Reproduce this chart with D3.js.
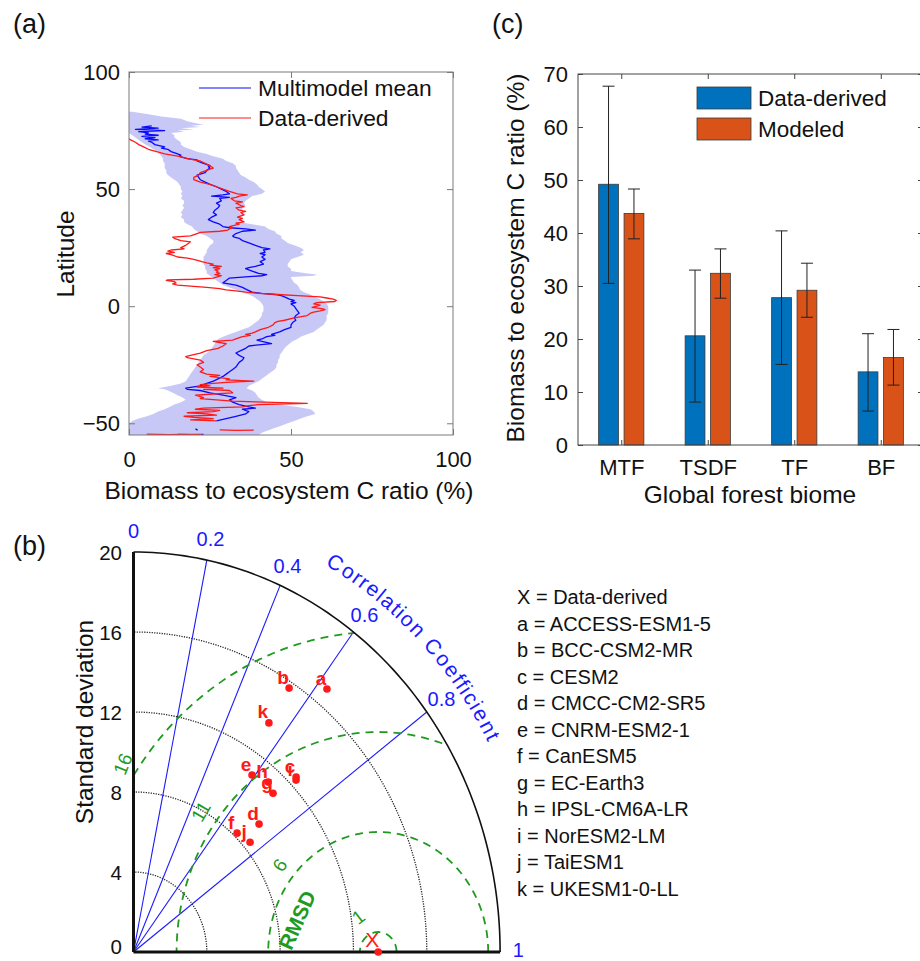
<!DOCTYPE html>
<html><head><meta charset="utf-8">
<script src="https://cdn.jsdelivr.net/npm/d3@7/dist/d3.min.js"></script>
<style>
body{margin:0;background:#fff}
text{font-family:"Liberation Sans",Arial,Helvetica,sans-serif;fill:#111}
</style>
</head><body>
<svg id="fig" width="920" height="961"></svg>
<script>
// ---------------- DATA ----------------
// Panel (a): latitudinal profiles
const meanLat = [77,76.5,76,75.5,75,74.5,74,73.5,73,72.5,72,71.5,71,70.5,70,69,68,67.5,67,66,65,64.5,64,63,62.5,62,61,60,59.5,59,58,57,56,55,54,53,52,51,50,49,48,47.5,47,46.5,46,45,44,43,42,41,40,39,38,37,36,35,34,33.5,33,32.5,32,31,30,29.5,29,28,27,26,25,24.5,24,23,22.5,22,21,20,19,18,17,16.5,16,15,14,13.5,13,12.5,12,11,10,9,8,7,6,5.5,5,4.5,4,3,2.5,2,1.5,1,0,-1,-2,-3,-4,-5,-6,-7,-8,-9,-10,-11,-12,-12.5,-13,-14,-14.5,-15,-16,-16.5,-17,-18,-19,-20,-21,-22,-23,-24,-25,-26,-27,-28,-29,-30,-31,-32,-33,-34,-35,-35.5,-36,-37,-38,-39,-40,-41,-42,-43,-43.5,-44,-45,-46,-47,-48,-49];
const meanVal = [7,4,9,2,11,3,6,5,9,4,8,5,9,6,7,8,11,10,12,13,15,16,15.5,18,21,21,23,25,24.5,25,24,23.5,21,21.5,22,23.5,25,27,28.5,30,31,29,25.5,31,28,28.5,27,28,27.5,26.5,26,27,25.5,24.5,26,28,29,31,36,39,35,33,32,32.5,34,35,37,39,41,43.5,41.5,42,40.5,42,41,42,40.5,41.5,39,37,36,38,40,42.5,41,36,31,30,29,33,35,36.5,38,41,45,47,48,49.5,51,50,51.5,50,51,51.5,52,52.5,51.5,51,51.5,50.5,50,50,48,46.5,44,45,42.5,41,39.5,41,44,40,37,36,34.5,33,34,35.5,35,34,33.5,33,32,31,30,29,27.5,26,24,22,17.5,18,22,25,29,33,31,32,34,37,39,35,37,36,33,30,27];
const meanTailLat = [-52.4,-52.9];
const meanTailVal = [20.5,21.2];
const meanBottomLat = [-54.7,-54.8,-54.7];
const meanBottomVal = [15,19,23];

const obsLat = [71.5,71,70,69,68,67,66,65,64,63,62.5,62,61,60,59,58.5,58,57,56,55,54,53,52,51,50,49,48,47.5,47,46.5,46,45,44.5,44,43,42.5,42,41,40.5,40,39,38,37.5,37,36,35.5,35,34,33.5,33,32.5,32,31.5,31,30,29.5,29,28,27.5,27,26,25,24.5,24,23.5,23,22.5,22,21,20.5,20,19,18.5,18,17.5,17,16.5,16,15.5,15,14.5,14,13.5,13,12,11.5,11.2,11,10.5,10,9.5,9,8.5,8,7.5,7,6.5,6,5.5,5,4.5,4,3.5,3,2.5,2,1.5,1,0.5,0,-0.5,-1,-1.5,-2,-2.5,-3,-4,-5,-6,-6.5,-7,-8,-9,-10,-11,-11.5,-12,-12.5,-13,-14,-14.5,-15,-15.5,-16,-17,-18,-19,-20,-21,-21.5,-22,-23,-24,-25,-26,-27,-28,-29,-29.5,-30,-31,-31.5,-32,-32.5,-33,-33.5,-34,-34.5,-35,-35.5,-36,-37,-37.5,-38,-39,-39.5,-40,-40.5,-41,-41.5,-42,-42.5,-43,-43.5,-44,-44.5,-45,-45.5,-46,-46.5,-47,-47.5,-48,-48.5,-49];
const obsVal = [0,0.5,2,3,4.5,6,8.5,11,15.5,18,20,22,23.5,25,26,25,24,22,21.5,20,20,22,25,27,29,31,33.5,36.5,34,33,31.5,32.5,35,33,34.5,35.5,33,34,36,34.5,35.5,33.5,35,34,35.5,33,34,31,32,31,30.5,28,22,21,19,13.5,14,16,19,18.5,17.5,16,17,13,12,14,11.5,13,15,18,20,22.5,24,26,25,28.5,26,28,26.5,27.5,27,28,26.5,28.5,26,20,12,11.5,14,14.5,13.5,15,20,24,28,30,33,36,40,46,52,59,61,63,64,63.5,58,57,59,58,56.5,59.5,60.5,59,57,56,55,51,48,46,45,44.5,43,40.5,39,38,36,37.5,35,33,32,26,28,30,29,27.5,24,22,19,17.5,18,22,23,21,22,23,22,24,28,25,31,30,38.5,30,26,22,25,21,29,23,31,32,26,20.5,23,22,27,32,42,55,40,37,35,23,20.5,28,26,18,24,27,17,20,26,19,27];
const obsTailLat = [-52.8,-53.0,-52.9];
const obsTailVal = [28,33,38.5];
const obsBottomLat = [-54.6,-54.8,-54.7,-54.8];
const obsBottomVal = [5.5,12,18,22.5];

const bandLat = [83,82,81,80,79,78,77.5,77,76.5,76,75.5,75,74.5,74,73,72,71,70,69,68,67,66,65,64,63,62,61,60,59,58,57,56,55,54,53,52,51,50,49,48,47,46,45,44,43,42,41,40,39,38,37,36,35,34,33,32,31,30,29,28,27,26,25,24,23,22,21,20,19,18,17,16,15,14,13.5,13,12.5,12,11,10,9,8,7,6,5,4,3,2,1,0,-1,-2,-3,-4,-5,-6,-7,-8,-9,-10,-11,-12,-13,-14,-15,-16,-17,-18,-19,-20,-21,-22,-23,-24,-25,-26,-27,-28,-29,-30,-31,-32,-33,-34,-35,-35.5,-36,-37,-38,-39,-40,-41,-42,-43,-44,-45,-46,-47,-48,-49,-50,-51,-52,-53,-54,-55];
const bandLo = [0,0,0,0,0,0,0,0,0,0,0,0,0,0,1,2,3,4,5,6.5,7.5,9,9.5,10,10.5,10.5,11,11,11,11.5,11.5,12,13,14,15,15.5,16,16,16.5,16,16.5,16,17,17,16.5,17,16.5,16,16.5,16,17,17,18,19.5,20,21,22,24,25,26,26,25,24.5,24,24,23.5,23,23,23,23,23.5,23.5,24,24,24.5,25,25.5,26,27,28,29,31,33,35,37,38.5,39.5,40.5,41,41.5,41.5,41.5,41,41,40.5,40,39,38,37,35,33,31,29,27.5,27,26.5,26,25.5,25,24,23,22.5,22,21.5,21,20.5,20,19.5,19,18.5,18,17.5,16,13,9,11,12,13.5,15,16.5,17.5,16,14,12.5,11,9,7.5,5.5,3,1,0,0,0,0,0,0];
const bandHi = [1,6,10,16,18,21,23,19,22,16,20,15,17,13,14,14,15,16,16,17,19,21,24,26,29,30,32,33,33,33.5,34,34.5,36,37,38.5,39.5,40,41,42,41,38,37,36,35.5,36,35,35,34,35,34,34.5,34,38,42,43,45,45.5,47,47,48,49,51,53,54,53,54,52,50,49.5,49,49,50,50,55,58,57,50,50,50.5,51,52,52.5,52.8,54,56,57,59,60,61,61.5,61.5,61.5,61.5,61,61,61,60.5,60,59,58,57,55,53,52,50.5,49.5,48.7,48,47.5,47,46.5,46.5,46,46,45.5,45.5,45,44,43,42,41,40,38.5,37,36.3,37,38,39,39.5,40,41,42.5,46,52,56,57,57.5,55,53,51,49,47,45,43,41,40];
const xTicksA = [0,50,100];
const yTicksA = [-50,0,50,100];
const legendA = ["Multimodel mean","Data-derived"];

// Panel (b): Taylor diagram
const modelLabels = ["a","b","c","d","e","f","g","h","i","j","k"];
const modelStd  = [16.86,15.69,12.46,9.37,10.96,8.20,11.00,11.23,12.35,8.40,13.63];
const modelCorr = [0.626,0.541,0.712,0.731,0.590,0.689,0.692,0.654,0.718,0.757,0.542];
const refStd = 13.35;
const stdTicks = [0,4,8,12,16,20];
const stdArcs = [4,8,12,16];
const corrTicks = [0,0.2,0.4,0.6,0.8,1];
const corrLines = [0.2,0.4,0.6,0.8];
const rmsdLevels = [1,6,11,16];
const modelNames = ["X = Data-derived","a = ACCESS-ESM1-5","b = BCC-CSM2-MR","c = CESM2","d = CMCC-CM2-SR5","e = CNRM-ESM2-1","f = CanESM5","g = EC-Earth3","h = IPSL-CM6A-LR","i = NorESM2-LM","j = TaiESM1","k = UKESM1-0-LL"];

// Panel (c): bars
const biomes = ["MTF","TSDF","TF","BF"];
const derivedVal = [49.2,20.6,27.8,13.8];
const derivedLo  = [30.5,8.1,15.2,6.4];
const derivedHi  = [67.7,33.0,40.4,21.0];
const modeledVal = [43.7,32.4,29.2,16.5];
const modeledLo  = [38.9,27.7,24.1,11.3];
const modeledHi  = [48.3,37.0,34.3,21.8];
const yTicksC = [0,10,20,30,40,50,60,70];
const legendC = ["Data-derived","Modeled"];

// ---------------- DRAW ----------------
const svg = d3.select("#fig");
svg.append("rect").attr("width",920).attr("height",961).attr("fill","#fff");

const TICK = 22, LAB = 24.5;

// panel letters
[["(a)",13,24],["(c)",492,24],["(b)",13,546]].forEach(p=>{
  svg.append("text").text(p[0]).attr("x",p[1]).attr("y",p[2]).attr("dominant-baseline","central").style("font-size","27px");
});

const styleAxis = (sel,axis,col)=>{ sel.call(axis); sel.select(".domain").remove();
  sel.selectAll(".tick line").attr("stroke",col);
  sel.selectAll("text").style("font-size",TICK+"px").attr("fill","#111").style("font-family",'"Liberation Sans",Arial,sans-serif'); };

// ======== Panel (a) ========
{
  const x = d3.scaleLinear().domain([0,100]).range([129,453]);
  const y = d3.scaleLinear().domain([-55,100]).range([435,72]);
  const g = svg.append("g");
  g.append("clipPath").attr("id","clipA").append("rect")
    .attr("x",129).attr("y",72).attr("width",324).attr("height",363);
  const pc = g.append("g").attr("clip-path","url(#clipA)");
  const band = bandLat.map((l,i)=>({lat:l,lo:bandLo[i],hi:bandHi[i]}));
  pc.append("path").datum(band)
    .attr("d",d3.area().y(d=>y(d.lat)).x0(d=>x(d.lo)).x1(d=>x(d.hi)))
    .attr("fill","#c8c8f6").attr("stroke","none");
  const line = d3.line().x(d=>x(d[1])).y(d=>y(d[0]));
  const zipper = (a,b)=>a.map((v,i)=>[v,b[i]]);
  [[meanLat,meanVal],[meanTailLat,meanTailVal],[meanBottomLat,meanBottomVal]].forEach(s=>{
    pc.append("path").datum(zipper(s[0],s[1])).attr("d",line)
      .attr("fill","none").attr("stroke","#0a0aff").attr("stroke-width",1.3).attr("stroke-linejoin","round");
  });
  [[obsLat,obsVal],[obsTailLat,obsTailVal],[obsBottomLat,obsBottomVal]].forEach(s=>{
    pc.append("path").datum(zipper(s[0],s[1])).attr("d",line)
      .attr("fill","none").attr("stroke","#ff1a1a").attr("stroke-width",1.3).attr("stroke-linejoin","round");
  });
  const col = "#7a7a7a";
  styleAxis(g.append("g").attr("transform","translate(0,435)"), d3.axisBottom(x).tickValues(xTicksA).tickSize(-6).tickPadding(16), col);
  styleAxis(g.append("g").attr("transform","translate(0,72)"), d3.axisTop(x).tickValues(xTicksA).tickSize(-6).tickFormat(""), col);
  styleAxis(g.append("g").attr("transform","translate(129,0)"), d3.axisLeft(y).tickValues(yTicksA).tickSize(-6).tickPadding(9), col);
  styleAxis(g.append("g").attr("transform","translate(453,0)"), d3.axisRight(y).tickValues(yTicksA).tickSize(-6).tickFormat(""), col);
  g.append("rect").attr("x",129).attr("y",72).attr("width",324).attr("height",363)
    .attr("fill","none").attr("stroke",col).attr("stroke-width",1);
  g.append("text").text("Biomass to ecosystem C ratio (%)").attr("x",289).attr("y",490)
    .attr("text-anchor","middle").attr("dominant-baseline","central").style("font-size",LAB+"px");
  g.append("text").text("Latitude").attr("transform","translate(65,254) rotate(-90)")
    .attr("text-anchor","middle").attr("dominant-baseline","central").style("font-size",LAB+"px");
  const lc = ["#0a0aff","#ff1a1a"];
  legendA.forEach((t,i)=>{
    const yy = 88 + i*30;
    g.append("line").attr("x1",199).attr("x2",251).attr("y1",yy).attr("y2",yy).attr("stroke",lc[i]).attr("stroke-width",1.2);
    g.append("text").text(t).attr("x",258).attr("y",yy).attr("dominant-baseline","central").style("font-size","22.8px");
  });
}

// ======== Panel (c) ========
{
  const x = d3.scaleLinear().domain([0.5,4.5]).range([578,924]);
  const y = d3.scaleLinear().domain([0,70]).range([445,74]);
  const g = svg.append("g");
  const off = 0.147, bw = 0.229;
  const series = [
    {v:derivedVal,lo:derivedLo,hi:derivedHi,c:"#0072BD",o:-off},
    {v:modeledVal,lo:modeledLo,hi:modeledHi,c:"#D95319",o:off}];
  series.forEach(s=>{
    biomes.forEach((b,i)=>{
      const cx = i+1+s.o;
      g.append("rect").attr("x",x(cx-bw/2)).attr("width",x(cx+bw/2)-x(cx-bw/2))
        .attr("y",y(s.v[i])).attr("height",y(0)-y(s.v[i]))
        .attr("fill",s.c).attr("stroke","#3a3a3a").attr("stroke-width",0.8);
    });
  });
  series.forEach(s=>{
    biomes.forEach((b,i)=>{
      const cx = x(i+1+s.o);
      g.append("line").attr("x1",cx).attr("x2",cx).attr("y1",y(s.lo[i])).attr("y2",y(s.hi[i])).attr("stroke","#222").attr("stroke-width",1);
      [s.lo[i],s.hi[i]].forEach(v=>g.append("line").attr("x1",cx-6).attr("x2",cx+6).attr("y1",y(v)).attr("y2",y(v)).attr("stroke","#222").attr("stroke-width",1));
    });
  });
  const col = "#444";
  styleAxis(g.append("g").attr("transform","translate(0,445)"), d3.axisBottom(x).tickValues([1,2,3,4]).tickFormat((d,i)=>biomes[i]).tickSize(-5).tickPadding(14), col);
  styleAxis(g.append("g").attr("transform","translate(0,74)"), d3.axisTop(x).tickValues([1,2,3,4]).tickSize(-5).tickFormat(""), col);
  styleAxis(g.append("g").attr("transform","translate(578,0)"), d3.axisLeft(y).tickValues(yTicksC).tickSize(-5).tickPadding(10), col);
  styleAxis(g.append("g").attr("transform","translate(923,0)"), d3.axisRight(y).tickValues(yTicksC).tickSize(-5).tickFormat(""), col);
  g.append("rect").attr("x",578).attr("y",74).attr("width",345).attr("height",371)
    .attr("fill","none").attr("stroke",col).attr("stroke-width",1);
  g.append("text").text("Global forest biome").attr("x",750).attr("y",494)
    .attr("text-anchor","middle").attr("dominant-baseline","central").style("font-size",LAB+"px");
  g.append("text").text("Biomass to ecosystem C ratio (%)").attr("transform","translate(515,258) rotate(-90)")
    .attr("text-anchor","middle").attr("dominant-baseline","central").style("font-size",LAB+"px");
  const cols = ["#0072BD","#D95319"];
  legendC.forEach((t,i)=>{
    const yy = 87 + i*31;
    g.append("rect").attr("x",697).attr("y",yy).attr("width",54).attr("height",22).attr("fill",cols[i]).attr("stroke","#3a3a3a").attr("stroke-width",0.8);
    g.append("text").text(t).attr("x",758).attr("y",yy+11).attr("dominant-baseline","central").style("font-size","22.5px");
  });
}

// ======== Panel (b) Taylor ========
{
  const ox = 133.5, oy = 952;
  const sx = d3.scaleLinear().domain([0,20]).range([0,366.6]);
  const sy = d3.scaleLinear().domain([0,20]).range([0,400]);
  const P = (s,a)=>[ox + sx(s*Math.cos(a)), oy - sy(s*Math.sin(a))];
  const g = svg.append("g");
  const arcPath = (r)=>{ const pts = d3.range(0,91,1).map(d=>P(r,d*Math.PI/180)); return d3.line()(pts); };
  const clipPts = [[ox,oy]].concat(d3.range(0,91,1).map(d=>P(20,d*Math.PI/180)));
  g.append("clipPath").attr("id","clipT").append("path").attr("d",d3.line()(clipPts)+"Z");
  stdArcs.forEach(r=>g.append("path").attr("d",arcPath(r)).attr("fill","none").attr("stroke","#222").attr("stroke-width",1.3).attr("stroke-dasharray","1.2,1.3"));
  corrLines.forEach(c=>{ const a = Math.acos(c); const p = P(20,a);
    g.append("line").attr("x1",ox).attr("y1",oy).attr("x2",p[0]).attr("y2",p[1]).attr("stroke","#1a1aff").attr("stroke-width",1.1); });
  const cg = g.append("g").attr("clip-path","url(#clipT)");
  rmsdLevels.forEach(r=>{
    const pts = d3.range(0,181,1).map(d=>{ const a=d*Math.PI/180; return [ox+sx(refStd+r*Math.cos(a)), oy - sy(r*Math.sin(a))]; });
    cg.append("path").attr("d",d3.line()(pts)).attr("fill","none").attr("stroke","#1f9a1f").attr("stroke-width",1.8).attr("stroke-dasharray","8,6");
  });
  const rmsdLab = [[122,2.05,-38],[141,6.9,-55],[144,11.95,-60],[146,16.8,-68]];
  rmsdLevels.forEach((r,i)=>{
    const [ang,rr,rot] = rmsdLab[i]; const a = ang*Math.PI/180;
    const px = ox+sx(refStd+rr*Math.cos(a)), py = oy - sy(rr*Math.sin(a));
    g.append("text").text(r).attr("transform",`translate(${px},${py}) rotate(${rot})`)
      .attr("text-anchor","middle").attr("dominant-baseline","central").style("font-size","19px").style("fill","#1f9a1f");
  });
  g.append("text").text("RMSD").attr("transform","translate(297,920) rotate(-66)")
    .attr("text-anchor","middle").attr("dominant-baseline","central").style("font-size","21px").style("font-weight","bold").style("fill","#1f9a1f");
  g.append("path").attr("d",arcPath(20)).attr("fill","none").attr("stroke","#111").attr("stroke-width",1.6);
  g.append("line").attr("x1",ox).attr("y1",oy).attr("x2",ox).attr("y2",oy-sy(20)).attr("stroke","#111").attr("stroke-width",3);
  g.append("line").attr("x1",ox).attr("y1",oy).attr("x2",ox+sx(20)).attr("y2",oy).attr("stroke","#111").attr("stroke-width",3);
  stdTicks.forEach(t=>g.append("text").text(t).attr("x",122).attr("y",oy-sy(t)-(t===0?6:0)).attr("text-anchor","end").attr("dominant-baseline","central").style("font-size","20.5px"));
  g.append("text").text("Standard deviation").attr("transform","translate(84,722) rotate(-90)")
    .attr("text-anchor","middle").attr("dominant-baseline","central").style("font-size",LAB+"px");
  corrTicks.forEach(c=>{ const p = P(21.0,Math.acos(c));
    g.append("text").text(c).attr("x",p[0]).attr("y",p[1]+(c===1?-2:-1)).attr("text-anchor","middle").attr("dominant-baseline","central").style("font-size","20px").style("fill","#1a1aff"); });
  {
    const str = "Correlation Coefficient";
    const fs = 21;
    const meas = g.append("text").style("font-size",fs+"px");
    const widths = str.split("").map(ch=>{ meas.text(ch===" "?"\u00a0":ch); return meas.node().getComputedTextLength(); });
    meas.remove();
    const tot = d3.sum(widths);
    const a0 = 61.8*Math.PI/180, a1 = 28.4*Math.PI/180, R = 22.0;
    let cum = 0;
    str.split("").forEach((ch,i)=>{
      const f = (cum + widths[i]/2)/tot; cum += widths[i];
      if(ch===" ") return;
      const a = a0 + (a1-a0)*f;
      const p = P(R,a);
      const rot = Math.atan2(Math.cos(a)*400, Math.sin(a)*366.6)*180/Math.PI;
      g.append("text").text(ch).attr("transform",`translate(${p[0]},${p[1]}) rotate(${rot})`)
        .attr("text-anchor","middle").style("font-size",fs+"px").style("fill","#1a1aff");
    });
  }
  modelLabels.forEach((l,i)=>{
    const p = P(modelStd[i], Math.acos(modelCorr[i]));
    g.append("circle").attr("cx",p[0]).attr("cy",p[1]).attr("r",3.8).attr("fill","#ff1a1a");
    g.append("text").text(l).attr("x",p[0]-6).attr("y",p[1]-11).attr("text-anchor","middle").attr("dominant-baseline","central")
      .style("font-size","19px").style("font-weight","bold").style("fill","#ff1a1a");
  });
  const rp = P(refStd,0);
  g.append("circle").attr("cx",rp[0]).attr("cy",rp[1]).attr("r",3.8).attr("fill","#ff1a1a");
  g.append("text").text("X").attr("x",rp[0]-6).attr("y",rp[1]-13).attr("text-anchor","middle").attr("dominant-baseline","central")
    .style("font-size","21px").style("fill","#ff1a1a");
  modelNames.forEach((t,i)=>g.append("text").text(t).attr("x",517).attr("y",597+i*26.5).attr("dominant-baseline","central").style("font-size","20px"));
}
</script>
</body></html>
